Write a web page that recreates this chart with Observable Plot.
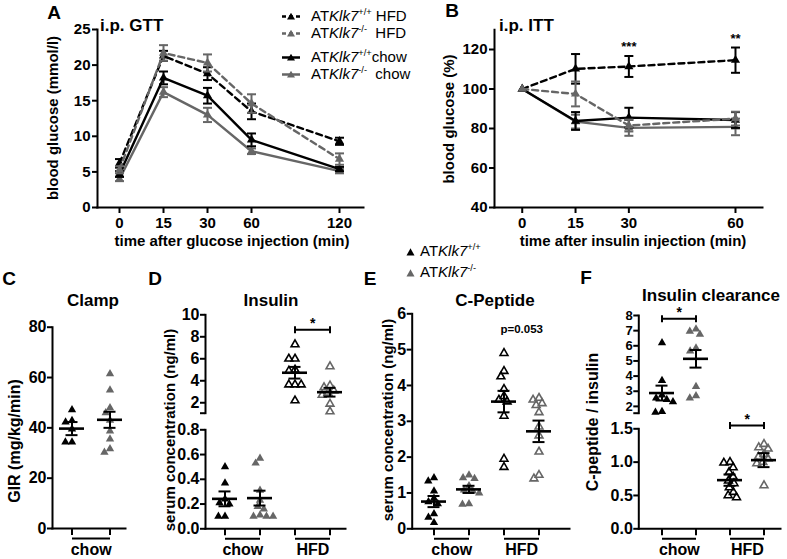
<!DOCTYPE html>
<html>
<head>
<meta charset="utf-8">
<script src="https://cdn.jsdelivr.net/npm/d3@7"></script>
<script src="https://cdn.jsdelivr.net/npm/@observablehq/plot@0.6"></script>
<style>
  html, body { margin: 0; padding: 0; background: #fff; }
  #root { position: relative; width: 787px; height: 559px; overflow: hidden; background: #fff;
          font-family: "Liberation Sans", Arial, Helvetica, sans-serif; color: #000; }
  #root svg.plotlayer { position: absolute; left: 0; top: 0; }
  .t { position: absolute; white-space: nowrap; line-height: 1; }
  .t sup { font-size: 0.62em; vertical-align: 0.6em; line-height: 0; }
  .t i { font-style: italic; }
  .sw { display: inline-block; vertical-align: middle; margin-right: 10px; }
</style>
</head>
<body>
<div id="root"></div>
<script>
// ================= DATA =================
// A: i.p. GTT (blood glucose, mmol/l)
const gttTimes = [0, 15, 30, 60, 120];
const gttYTicks = [0, 5, 10, 15, 20, 25];
const gttHfdWt = [6.2, 21.3, 18.8, 13.5, 9.3];
const gttHfdWtErr = [0.6, 0.7, 0.9, 1.1, 0.5];
const gttHfdKo = [5.3, 21.7, 20.3, 14.6, 6.8];
const gttHfdKoErr = [0.5, 1.1, 1.2, 1.3, 0.8];
const gttChowWt = [4.7, 18.2, 15.7, 9.5, 5.4];
const gttChowWtErr = [0.4, 0.9, 1.1, 0.9, 0.3];
const gttChowKo = [4.0, 16.2, 13.0, 7.9, 5.1];
const gttChowKoErr = [0.3, 0.7, 1.0, 0.4, 0.3];

// B: i.p. ITT (blood glucose, % of baseline)
const ittTimes = [0, 15, 30, 60];
const ittYTicks = [40, 60, 80, 100, 120];
const ittHfdWt = [100, 110.2, 111.4, 114.6];
const ittHfdWtErr = [0, 7.5, 5.3, 6.4];
const ittHfdKo = [100, 97.5, 81.5, 85.0];
const ittHfdKoErr = [0, 6.3, 3.0, 3.5];
const ittChowWt = [100, 83.8, 85.5, 84.3];
const ittChowWtErr = [0, 4.5, 5.0, 4.0];
const ittChowKo = [100, 83.5, 80.3, 80.8];
const ittChowKoErr = [0, 3.5, 4.0, 4.2];
const ittSigTimes = [30, 60];
const ittSigLabels = ["***", "**"];

// series descriptors (legend order)
const seriesDiet = ["HFD", "HFD", "chow", "chow"];
const seriesGenotype = ["+/+", "-/-", "+/+", "-/-"];

// bottom panels
const bottomGroups = ["chow +/+", "chow -/-", "HFD +/+", "HFD -/-"];
const dietNames = ["chow", "HFD"];

// C: Clamp, GIR (mg/kg/min), chow only
const clampWt = [47.2, 42.9, 42.3, 39.5, 34.3, 34.3];
const clampKo = [61.5, 55.0, 48.0, 46.0, 43.0, 38.7, 35.5, 31.7, 30.3];
const clampMean = [39.7, 43.2];
const clampSem = [2.6, 3.2];
const clampTicks = [0, 20, 40, 60, 80];

// D: Insulin, serum concentration (ng/ml)
const insChowWt = [0.50, 0.37, 0.24, 0.21, 0.20, 0.10, 0.10];
const insChowKo = [0.57, 0.53, 0.31, 0.23, 0.18, 0.16, 0.11, 0.10, 0.10, 0.10];
const insHfdWt = [7.3, 6.0, 6.0, 5.0, 4.9, 3.65, 3.65, 3.65, 2.2];
const insHfdKo = [5.3, 3.55, 3.4, 3.1, 2.9, 2.7, 1.9, 1.2];
const insMean = [0.242, 0.248, 4.73, 2.96];
const insSem = [0.06, 0.06, 0.53, 0.40];
const insUpperTicks = [2, 4, 6, 8, 10];
const insLowerTicks = [0, 0.2, 0.4, 0.6, 0.8];
const insSigY = [8.64];
const insSigLabel = ["*"];

// E: C-Peptide, serum concentration (ng/ml)
const cpChowWt = [1.42, 1.33, 1.05, 0.85, 0.75, 0.70, 0.42, 0.32, 0.17];
const cpChowKo = [1.50, 1.42, 1.40, 1.20, 1.08, 1.05, 1.00, 0.70, 0.68];
const cpHfdWt = [4.90, 4.40, 4.25, 3.90, 3.70, 3.60, 3.55, 3.15, 1.95, 1.72];
const cpHfdKo = [3.65, 3.60, 3.50, 3.45, 3.25, 2.85, 2.60, 2.15, 1.50, 1.40];
const cpMean = [0.76, 1.10, 3.55, 2.72];
const cpSem = [0.155, 0.10, 0.30, 0.30];
const cpTicks = [0, 1, 2, 3, 4, 5, 6];
const cpNoteY = [5.58];
const cpNoteLabel = ["p=0.053"];

// F: Insulin clearance, C-peptide / insulin
const clChowWt = [6.2, 3.7, 2.75, 2.55, 2.45, 2.3, 1.65, 1.6];
const clChowKo = [7.1, 6.95, 6.75, 5.85, 5.65, 3.3, 2.7, 2.55];
const clHfdWt = [1.0, 0.99, 0.92, 0.85, 0.78, 0.72, 0.68, 0.62, 0.55, 0.5, 0.47];
const clHfdKo = [1.27, 1.22, 1.2, 1.12, 1.08, 1.05, 1.0, 0.98, 0.65];
const clMean = [2.88, 5.14, 0.73, 1.03];
const clSem = [0.49, 0.58, 0.085, 0.105];
const clUpperTicks = [2, 3, 4, 5, 6, 7, 8];
const clLowerTicks = [0, 0.5, 1.0, 1.5];
const clSigY = [7.78, 1.55];
const clSigLabel = ["*", "*"];

// ================= STYLE / HELPERS =================
const BLACK = "#000", GRAY = "#666";
const seriesColor = [BLACK, GRAY, BLACK, GRAY];
const seriesDash = ["6,4", "6,4", null, null];
const groupColor = [BLACK, GRAY, BLACK, GRAY];
const groupHollow = [false, false, true, true];
const FONT = '"Liberation Sans", Arial, Helvetica, sans-serif';
const PW = 787, PH = 559;
const root = document.getElementById("root");

function frameBox(L, R, T, B) {
  return {width: PW, height: PH, marginLeft: L, marginRight: PW - R, marginTop: T, marginBottom: PH - B};
}
function baseStyle(size) {
  return {background: "transparent", fontFamily: FONT, fontSize: size + "px", fontWeight: "bold", color: "#000", overflow: "visible"};
}
function add(plot) { plot.classList.add("plotlayer"); root.appendChild(plot); }

const hbar = {draw(ctx, size) { const r = Math.sqrt(size / Math.PI); ctx.moveTo(-r, 0); ctx.lineTo(r, 0); }};
const vbar = {draw(ctx, size) { const r = Math.sqrt(size / Math.PI); ctx.moveTo(0, -r); ctx.lineTo(0, r); }};

function txt(html, x, y, {size = 15, weight = "bold", rotate = false, anchor = "middle"} = {}) {
  const d = document.createElement("div");
  d.className = "t";
  d.innerHTML = html;
  d.style.left = x + "px";
  d.style.top = y + "px";
  d.style.fontSize = size + "px";
  d.style.fontWeight = weight;
  const tx = anchor === "middle" ? "-50%" : anchor === "start" ? "0" : "-100%";
  d.style.transform = `translate(${tx},-50%)` + (rotate ? " rotate(-90deg)" : "");
  root.appendChild(d);
}
const geno = (g) => `AT<i>Klk7</i><sup>${g}</sup>`;

// ================= TIME COURSES (A, B) =================
function timeCourse({times, values, errors, L, R, T, B, x, yDomain, yTicks, sig}) {
  const marks = [
    Plot.axisY({ticks: yTicks, tickSize: 5, tickPadding: 2, strokeWidth: 2, label: null}),
    Plot.axisX({ticks: times, tickSize: 6, tickPadding: 4, strokeWidth: 2, label: null}),
    Plot.frame({anchor: "left", strokeWidth: 2}),
    Plot.frame({anchor: "bottom", strokeWidth: 2})
  ];
  const order = [3, 2, 0, 1];
  for (const k of order) {
    const rows = times.map((t, i) => ({t, v: values[k][i], e: errors[k][i]}));
    const withErr = rows.filter((d) => d.e > 0);
    const c = seriesColor[k];
    marks.push(
      Plot.line(rows, {x: "t", y: "v", stroke: c, strokeWidth: 2.4, strokeDasharray: seriesDash[k] || undefined}),
      Plot.ruleX(withErr, {x: "t", y1: (d) => d.v - d.e, y2: (d) => d.v + d.e, stroke: c, strokeWidth: 2}),
      Plot.dot(withErr, {x: "t", y: (d) => d.v + d.e, symbol: hbar, r: 4.5, fill: "none", stroke: c, strokeWidth: 2}),
      Plot.dot(withErr, {x: "t", y: (d) => d.v - d.e, symbol: hbar, r: 4.5, fill: "none", stroke: c, strokeWidth: 2}),
      Plot.dot(rows, {x: "t", y: "v", symbol: "triangle", r: 3.4, fill: c, stroke: "none"})
    );
  }
  if (sig) marks.push(Plot.text(sig, {x: "t", y: "y", text: "label", dy: -9, fontSize: 13}));
  add(Plot.plot({...frameBox(L, R, T, B), style: baseStyle(15), x, y: {domain: yDomain}, marks}));
}

// GTT time axis: 0–60 min evenly spaced, 60→120 spanning two slots
const gttSlots = [0, 15, 30, 60, 90, 120];
timeCourse({
  times: gttTimes,
  values: [gttHfdWt, gttHfdKo, gttChowWt, gttChowKo],
  errors: [gttHfdWtErr, gttHfdKoErr, gttChowWtErr, gttChowKoErr],
  L: 97, R: 363, T: 29, B: 207,
  x: {type: "point", domain: gttSlots, range: [117, 340], padding: 0},
  yDomain: [0, 25], yTicks: gttYTicks
});

timeCourse({
  times: ittTimes,
  values: [ittHfdWt, ittHfdKo, ittChowWt, ittChowKo],
  errors: [ittHfdWtErr, ittHfdKoErr, ittChowWtErr, ittChowKoErr],
  L: 494, R: 762, T: 29.25, B: 207,
  x: {domain: [-7.8, 67.6]},
  yDomain: [40, 130], yTicks: ittYTicks,
  sig: ittSigTimes.map((t, i) => {
    const j = ittTimes.indexOf(t);
    return {t, label: ittSigLabels[i], y: ittHfdWt[j] + ittHfdWtErr[j]};
  })
});

// ================= SCATTER PANELS (C–F) =================
function scatterSub({groups, c0, step, L, R, T, B, yDomain, yTicks, tickFormat, tickFont = 16, pointSets, stats, brackets = [], notes = [], diets = null}) {
  const n = groups.length;
  const range = [c0 - step / 2, c0 + step * (n - 0.5)];
  const bw = 25;
  const p = 1 - bw / step;
  const capInset = (bw - 12) / 2;
  const band = {domain: groups, range, paddingInner: p, paddingOuter: p / 2};

  // dots layer (one facet per group, beeswarm by dodgeX)
  const dotMarks = pointSets.map((ps) =>
    Plot.dot(ps.values.map((v) => ({g: ps.group, v})),
      Plot.dodgeX({anchor: "middle", padding: 0.4}, {
        fx: "g", y: "v", r: ps.hollow ? 2.9 : 3.1, symbol: "triangle",
        fill: ps.hollow ? "none" : ps.color, stroke: ps.hollow ? ps.color : "none", strokeWidth: 1.6
      })));
  add(Plot.plot({...frameBox(L, R, T, B), style: baseStyle(16),
    fx: {...band, axis: null}, y: {domain: yDomain, axis: null}, marks: dotMarks}));

  // axes & statistics layer
  const marks = [
    Plot.axisY({ticks: yTicks, tickFormat, tickSize: 5, tickPadding: 1, strokeWidth: 2, fontSize: tickFont, label: null}),
    Plot.frame({anchor: "left", strokeWidth: 2})
  ];
  if (diets) {
    marks.push(
      Plot.frame({anchor: "bottom", strokeWidth: 2}),
      Plot.axisX({tickSize: 7, tickFormat: () => "", strokeWidth: 2, label: null}),
      Plot.link(diets, {x1: "a", x2: "b", y1: () => yDomain[0], y2: () => yDomain[0], dy: 10, strokeWidth: 2}),
      Plot.text(diets, {x: "a", y: () => yDomain[0], text: "name", dx: step / 2, dy: 21, fontSize: 16})
    );
  }
  marks.push(
    Plot.ruleX(stats, {x: "g", y1: (d) => d.m - d.s, y2: (d) => d.m + d.s, strokeWidth: 2}),
    Plot.tickY(stats, {x: "g", y: (d) => d.m + d.s, insetLeft: capInset, insetRight: capInset, strokeWidth: 2}),
    Plot.tickY(stats, {x: "g", y: (d) => d.m - d.s, insetLeft: capInset, insetRight: capInset, strokeWidth: 2}),
    Plot.tickY(stats, {x: "g", y: "m", strokeWidth: 2.6})
  );
  if (brackets.length) {
    marks.push(
      Plot.link(brackets, {x1: "a", x2: "b", y1: "y", y2: "y", strokeWidth: 2}),
      Plot.dot(brackets.flatMap((d) => [{g: d.a, y: d.y}, {g: d.b, y: d.y}]),
        {x: "g", y: "y", symbol: vbar, r: 3.5, fill: "none", stroke: "#000", strokeWidth: 2}),
      Plot.text(brackets, {x: "a", y: "y", text: "label", dx: step / 2, dy: -6, fontSize: 14})
    );
  }
  if (notes.length) {
    marks.push(Plot.text(notes, {x: "a", y: "y", text: "label", dx: step / 2, fontSize: 11.5}));
  }
  add(Plot.plot({...frameBox(L, R, T, B), style: baseStyle(16),
    x: {type: "band", ...band, axis: diets ? undefined : null}, y: {domain: yDomain}, marks}));
}

function pointSetsFor(arrays, groups) {
  return arrays.map((values, i) => ({group: groups[i], values, color: groupColor[i], hollow: groupHollow[i]}));
}
function statsFor(means, sems, groups) {
  return means.map((m, i) => ({g: groups[i], m, s: sems[i]}));
}
const pick = (arr, idx) => idx.map((i) => arr[i]);
const dietsAll = [{name: dietNames[0], a: bottomGroups[0], b: bottomGroups[1]},
                  {name: dietNames[1], a: bottomGroups[2], b: bottomGroups[3]}];
const fmt1 = (d) => d.toFixed(1);

// C
{
  const groups = bottomGroups.slice(0, 2);
  scatterSub({
    groups, c0: 71.7, step: 38.3, L: 52, R: 125, T: 326.7, B: 528,
    yDomain: [0, 80], yTicks: clampTicks, tickFormat: (d) => String(d),
    pointSets: pointSetsFor([clampWt, clampKo], groups),
    stats: statsFor(clampMean, clampSem, groups),
    diets: [dietsAll[0]]
  });
}
// D
{
  const all = pointSetsFor([insChowWt, insChowKo, insHfdWt, insHfdKo], bottomGroups);
  const st = statsFor(insMean, insSem, bottomGroups);
  const common = {groups: bottomGroups, c0: 223, step: 35.67, L: 205, R: 345};
  const upperMin = 1.05;
  scatterSub({...common, T: 314.3, B: 412.7, yDomain: [upperMin, 10],
    yTicks: [upperMin, ...insUpperTicks], tickFormat: (d) => (d === upperMin ? "" : String(d)),
    pointSets: pick(all, [2, 3]), stats: pick(st, [2, 3]),
    brackets: insSigY.map((y, i) => ({a: bottomGroups[2], b: bottomGroups[3], y, label: insSigLabel[i]}))
  });
  scatterSub({...common, T: 429.3, B: 528.3, yDomain: [0, 0.8],
    yTicks: insLowerTicks, tickFormat: fmt1,
    pointSets: pick(all, [0, 1]), stats: pick(st, [0, 1]), diets: dietsAll
  });
}
// E
{
  scatterSub({groups: bottomGroups, c0: 433.3, step: 35.33, L: 411.7, R: 569, T: 313.3, B: 528.3,
    yDomain: [0, 6], yTicks: cpTicks, tickFormat: (d) => String(d),
    pointSets: pointSetsFor([cpChowWt, cpChowKo, cpHfdWt, cpHfdKo], bottomGroups),
    stats: statsFor(cpMean, cpSem, bottomGroups),
    notes: cpNoteY.map((y, i) => ({a: bottomGroups[2], y, label: cpNoteLabel[i]})),
    diets: dietsAll
  });
}
// F
{
  const all = pointSetsFor([clChowWt, clChowKo, clHfdWt, clHfdKo], bottomGroups);
  const st = statsFor(clMean, clSem, bottomGroups);
  const common = {groups: bottomGroups, c0: 660, step: 34.67, L: 638.3, R: 780};
  const upperMin = 1.55;
  scatterSub({...common, T: 315, B: 412.7, yDomain: [upperMin, 8],
    yTicks: [upperMin, ...clUpperTicks], tickFormat: (d) => (d === upperMin ? "" : String(d)), tickFont: 13,
    pointSets: pick(all, [0, 1]), stats: pick(st, [0, 1]),
    brackets: [{a: bottomGroups[0], b: bottomGroups[1], y: clSigY[0], label: clSigLabel[0]}]
  });
  scatterSub({...common, T: 428.3, B: 528.3, yDomain: [0, 1.5],
    yTicks: clLowerTicks, tickFormat: fmt1,
    pointSets: pick(all, [2, 3]), stats: pick(st, [2, 3]),
    brackets: [{a: bottomGroups[2], b: bottomGroups[3], y: clSigY[1], label: clSigLabel[1]}],
    diets: dietsAll
  });
}

// ================= TEXT =================
// panel letters
txt("A", 54, 12, {size: 19});
txt("B", 452, 10, {size: 19});
txt("C", 9, 278, {size: 19});
txt("D", 155, 278, {size: 19});
txt("E", 370, 278, {size: 19});
txt("F", 586, 277, {size: 19});
// titles
txt("i.p. GTT", 100, 25, {size: 17, anchor: "start"});
txt("i.p. ITT", 499, 25, {size: 17, anchor: "start"});
txt("Clamp", 93, 300, {size: 17});
txt("Insulin", 271, 300, {size: 17});
txt("C-Peptide", 495, 300, {size: 17});
txt("Insulin clearance", 711, 295, {size: 17});
// axis labels
txt("blood glucose (mmol/l)", 52, 118, {size: 15, rotate: true});
txt("time after glucose injection (min)", 232, 240, {size: 15});
txt("blood glucose (%)", 448, 119, {size: 15, rotate: true});
txt("time after insulin injection (min)", 633, 240, {size: 15});
txt("GIR (mg/kg/min)", 15, 441, {size: 16, rotate: true});
txt("serum concentration (ng/ml)", 169, 430, {size: 15, rotate: true});
txt("serum concentration (ng/ml)", 387, 420, {size: 15, rotate: true});
txt("C-peptide / insulin", 593, 422, {size: 16, rotate: true});

// legend (A/B)
function swatch(k) {
  const c = seriesColor[k];
  const dash = seriesDash[k] ? `stroke-dasharray="4,3"` : "";
  return `<svg class="sw" width="20" height="10"><line x1="1" y1="5" x2="19" y2="5" stroke="${c}" stroke-width="2.4" ${dash}/>` +
         `<path d="M10,1.2 L14,8 L6,8 Z" fill="${c}"/></svg>`;
}
const legendY = [15, 32, 56, 73];
for (let k = 0; k < 4; k++) {
  const sep = seriesDiet[k] === "HFD" ? (seriesGenotype[k] === "+/+" ? " " : "&nbsp;&nbsp;") : (seriesGenotype[k] === "+/+" ? "" : "&nbsp;&nbsp;");
  txt(swatch(k) + geno(seriesGenotype[k]) + sep + seriesDiet[k], 281, legendY[k], {size: 15, weight: "normal", anchor: "start"});
}
// legend (bottom panels)
function tri(c) {
  return `<svg class="sw" width="9" height="9" style="margin-right:5px"><path d="M4.5,0.8 L8.5,8 L0.5,8 Z" fill="${c}"/></svg>`;
}
txt(tri(BLACK) + geno("+/+"), 406, 250, {size: 15, weight: "normal", anchor: "start"});
txt(tri(GRAY) + geno("-/-"), 406, 271, {size: 15, weight: "normal", anchor: "start"});
</script>
</body>
</html>
